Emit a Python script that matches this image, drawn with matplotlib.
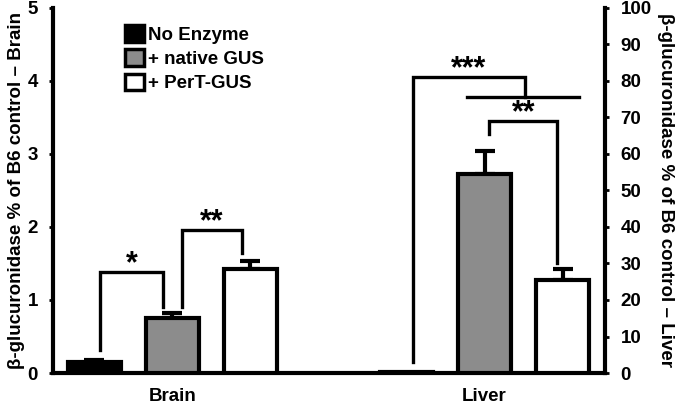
import numpy as np
import matplotlib
matplotlib.use("Agg")
import matplotlib.pyplot as plt
from matplotlib.patches import Patch

plt.rcParams['font.family'] = ['Liberation Sans', 'DejaVu Sans']
plt.rcParams['font.weight'] = 'bold'

# data
groups = ['Brain', 'Liver']
series = ['No Enzyme', '+ native GUS', '+ PerT-GUS']
colors = ['black', '#8c8c8c', 'white']
brain_vals = [0.15, 0.75, 1.42]
brain_err = [0.03, 0.07, 0.11]
liver_vals = [0.3, 54.5, 25.6]
liver_err = [0.0, 6.3, 2.8]

# bracket annotations: (x0, x1, y_left_end, y_top, y_right_end, label)
brain_brackets = [(0.07, 0.88, 0.31, 1.38, 0.90, '*'),
                  (1.12, 1.89, 0.90, 1.96, 1.64, '**')]
liver_brackets = [(5.06, 5.93, 65.5, 69.0, 30.2, '**')]

lw = 3.0
fs = 13.5
star_fs = 22
width = 0.68
xb = np.array([0, 1, 2])
xl = np.array([4, 5, 6])


def stars(a, x, y, lab):
    a.annotate(lab, (x, y), xytext=(0, 0), textcoords='offset points', ha='center',
               va='baseline', fontsize=star_fs, fontweight='bold')


fig = plt.figure(figsize=(6.8, 4.07), dpi=100)
ax = fig.add_axes([0.078, 0.0835, 0.812, 0.897])
ax2 = ax.twinx()

for i in range(3):
    ax.bar(xb[i], brain_vals[i], width, color=colors[i], edgecolor='black', linewidth=lw, zorder=3)
    ax.errorbar(xb[i], brain_vals[i], yerr=[[0], [brain_err[i]]], fmt='none', ecolor='black',
                elinewidth=lw, capsize=7, capthick=lw, zorder=2)
    ax2.bar(xl[i], liver_vals[i], width, color=colors[i], edgecolor='black', linewidth=lw, zorder=3)
    if liver_err[i] > 0:
        ax2.errorbar(xl[i], liver_vals[i], yerr=[[0], [liver_err[i]]], fmt='none', ecolor='black',
                     elinewidth=lw, capsize=7, capthick=lw, zorder=2)

for x0, x1, ya, yt, yb, lab in brain_brackets:
    ax.plot([x0, x0, x1, x1], [ya, yt, yt, yb], color='black', lw=2.4, solid_joinstyle='miter')
    stars(ax, (x0 + x1) / 2, yt, lab)

for x0, x1, ya, yt, yb, lab in liver_brackets:
    ax2.plot([x0, x0, x1, x1], [ya, yt, yt, yb], color='black', lw=2.4, solid_joinstyle='miter')
    stars(ax2, (x0 + x1) / 2, yt, lab)

# *** bracket from No Enzyme to the combined bar line
ax2.plot([4.08, 4.08, 5.52, 5.52], [3, 81, 81, 75.5], color='black', lw=2.4, solid_joinstyle='miter')
ax2.plot([4.77, 6.21], [75.5, 75.5], color='black', lw=2.4)
stars(ax2, 4.8, 81, '***')

ax.set_xlim(-0.53, 6.545)
ax.set_ylim(0, 5)
ax2.set_ylim(0, 100)
ax.set_yticks(range(0, 6))
ax2.set_yticks(range(0, 101, 10))
ax.set_xticks([1, 5])
ax.set_xticklabels(groups)

for a in (ax, ax2):
    a.spines['top'].set_visible(False)
    for s in a.spines.values():
        s.set_linewidth(lw)
    a.tick_params(axis='y', length=3, width=2, labelsize=fs, pad=8)
ax.spines['right'].set_visible(False)
ax2.spines['left'].set_visible(False)
ax2.spines['bottom'].set_visible(False)
ax.tick_params(axis='x', length=0, labelsize=fs, pad=11)

ax.set_ylabel('β-glucuronidase % of B6 control – Brain', fontsize=fs, fontweight='bold', labelpad=2)
ax2.set_ylabel('β-glucuronidase % of B6 control – Liver', fontsize=fs, fontweight='bold',
               rotation=-90, labelpad=16)

handles = [Patch(facecolor=c, edgecolor='black', linewidth=2.5) for c in colors]
ax.legend(handles, series, loc='upper left', bbox_to_anchor=(0.10, 1.0), frameon=False,
          fontsize=fs, handlelength=1.0, handleheight=1.0, handletextpad=0.2, labelspacing=0.3)

fig.savefig('out.png', dpi=100)
